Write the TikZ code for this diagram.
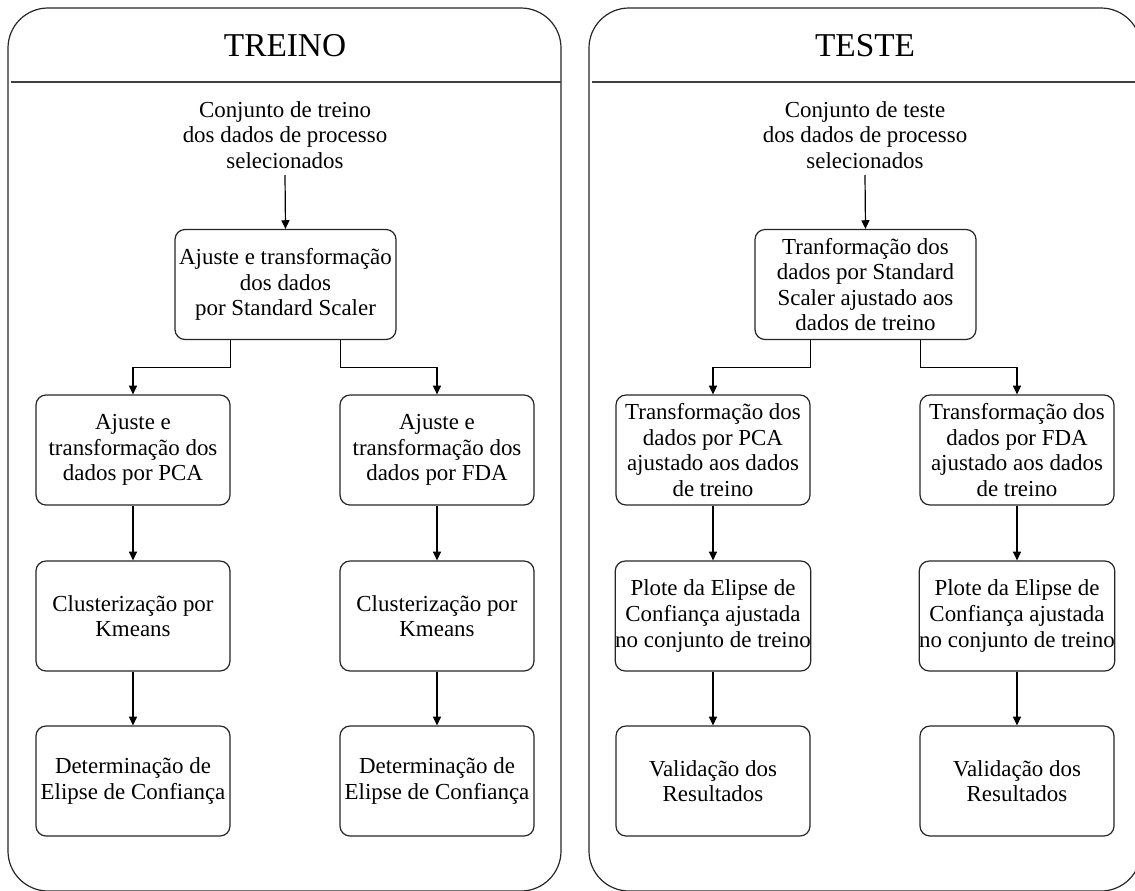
\documentclass[tikz,border=0pt]{standalone}
\usepackage{fontspec}
\setmainfont{Liberation Serif}
\usetikzlibrary{arrows.meta,positioning}
\begin{document}
\begin{tikzpicture}[x=0.75pt,y=-0.75pt,
  line width=0.9pt,
  panel/.style={draw=black!85,line width=0.9pt,rounded corners=30pt},
  header/.style={draw=black!75,line width=0.9pt},
  titletext/.style={font=\fontsize{25}{29}\selectfont},
  plaintext/.style={align=center,font=\fontsize{17.2}{19.2}\selectfont,inner sep=0pt},
  wide/.style={draw=black!85,rounded corners=7.5pt,align=center,
    minimum width=165.75pt,minimum height=82.5pt,inner sep=0pt,
    font=\fontsize{17.2}{19.2}\selectfont},
  stage/.style={draw=black!85,rounded corners=7.5pt,align=center,
    minimum width=145.5pt,minimum height=82.5pt,inner sep=0pt,
    font=\fontsize{17.2}{19.2}\selectfont},
  arr/.style={draw=black,line width=0.9pt,-{Triangle[length=6.5pt,width=6pt]}}
]
\useasboundingbox (0,0) rectangle (1135,890);
\clip (0,0) rectangle (1135,890);
\fill[white] (0,0) rectangle (1135,890);

% ---------- TREINO panel ----------
\draw[panel] (8,8) rectangle (561,891);
\draw[header] (11,82) -- (561,82);
\node[titletext] (t1) at (285,46) {TREINO};
\node[plaintext] (in1) at (285,135) {Conjunto de treino\\dos dados de processo\\selecionados};
\node[wide] (s1) at (285.5,284.5) {Ajuste e transformação\\dos dados\\por Standard Scaler};
\node[stage] (p1) at (133,450) {Ajuste e\\transformação dos\\dados por PCA};
\node[stage] (f1) at (437,450) {Ajuste e\\transformação dos\\dados por FDA};
\node[stage] (c1) at (133,616) {Clusterização por\\Kmeans};
\node[stage] (c2) at (437,616) {Clusterização por\\Kmeans};
\node[stage] (d1) at (133,781) {Determinação de\\Elipse de Confiança};
\node[stage] (d2) at (437,781) {Determinação de\\Elipse de Confiança};

\coordinate (in1b) at (285,175);
\draw[arr] (in1b) -- (s1.north);
\draw[arr] ([xshift=-41.25pt]s1.south) -- ++(0,27.5) -| (p1.north);
\draw[arr] ([xshift=41.25pt]s1.south) -- ++(0,27.5) -| (f1.north);
\draw[arr] (p1) -- (c1);
\draw[arr] (f1) -- (c2);
\draw[arr] (c1) -- (d1);
\draw[arr] (c2) -- (d2);

% ---------- TESTE panel ----------
\draw[panel] (589,8) rectangle (1141,891);
\draw[header] (592,82) -- (1141,82);
\node[titletext] (t2) at (865,46) {TESTE};
\node[plaintext] (in2) at (865,135) {Conjunto de teste\\dos dados de processo\\selecionados};
\node[wide] (s2) at (865.5,284.5) {Tranformação dos\\dados por Standard\\Scaler ajustado aos\\dados de treino};
\node[stage] (p2) at (713,450) {Transformação dos\\dados por PCA\\ajustado aos dados\\de treino};
\node[stage] (f2) at (1017,450) {Transformação dos\\dados por FDA\\ajustado aos dados\\de treino};
\node[stage] (e1) at (713,616) {Plote da Elipse de\\Confiança ajustada\\no conjunto de treino};
\node[stage] (e2) at (1017,616) {Plote da Elipse de\\Confiança ajustada\\no conjunto de treino};
\node[stage] (v1) at (713,781) {Validação dos\\Resultados};
\node[stage] (v2) at (1017,781) {Validação dos\\Resultados};

\coordinate (in2b) at (865,175);
\draw[arr] (in2b) -- (s2.north);
\draw[arr] ([xshift=-41.25pt]s2.south) -- ++(0,27.5) -| (p2.north);
\draw[arr] ([xshift=41.25pt]s2.south) -- ++(0,27.5) -| (f2.north);
\draw[arr] (p2) -- (e1);
\draw[arr] (f2) -- (e2);
\draw[arr] (e1) -- (v1);
\draw[arr] (e2) -- (v2);
\end{tikzpicture}
\end{document}
